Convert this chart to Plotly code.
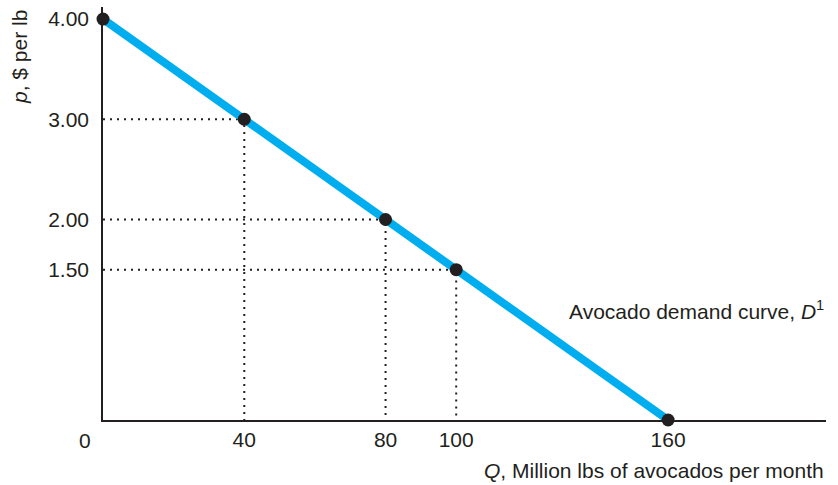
import plotly.graph_objects as go

# Data
quantities = [0, 40, 80, 100, 160]          # Q, million lbs per month
prices = [4.00, 3.00, 2.00, 1.50, 0.00]     # p, $ per lb
guide_q = [40, 80, 100]
guide_p = [3.00, 2.00, 1.50]
x_tickvals = [40, 80, 100, 160]
x_ticktext = ["40", "80", "100", "160"]
y_tickvals = [1.5, 2.0, 3.0, 4.0]
y_ticktext = ["1.50", "2.00", "3.00", "4.00"]
origin_label = "0"

INK = "#231F20"
BLUE = "#00AEEF"
FONT = "Liberation Sans, Arial, Helvetica, sans-serif"
FS = 21

fig = go.Figure()

# dotted guide lines
for q, p in zip(guide_q, guide_p):
    fig.add_trace(go.Scatter(
        x=[0, q, q], y=[p, p, 0], mode="lines",
        line=dict(color=INK, width=2, dash="2px,5px"),
        hoverinfo="skip", showlegend=False, cliponaxis=False))

# demand curve
fig.add_trace(go.Scatter(
    x=quantities, y=prices, mode="lines",
    line=dict(color=BLUE, width=8),
    showlegend=False, cliponaxis=False))

# points
fig.add_trace(go.Scatter(
    x=quantities, y=prices, mode="markers",
    marker=dict(color=INK, size=13),
    showlegend=False, cliponaxis=False))

fig.update_layout(
    width=838, height=485,
    margin=dict(l=103, r=12, t=7, b=65),
    paper_bgcolor="white", plot_bgcolor="white",
    font=dict(family=FONT, size=FS, color=INK),
    xaxis=dict(range=[0, 204.7], showgrid=False, zeroline=False,
               showline=True, linecolor=INK, linewidth=1.5,
               tickvals=x_tickvals, ticktext=x_ticktext,
               ticks="", ticklabelstandoff=0, layer="below traces",
               tickfont=dict(size=FS, color=INK)),
    yaxis=dict(range=[0, 4.12], showgrid=False, zeroline=False,
               showline=True, linecolor=INK, linewidth=1.5,
               tickvals=y_tickvals, ticktext=y_ticktext,
               ticks="", ticklabelstandoff=8, layer="below traces",
               tickfont=dict(size=FS, color=INK)),
    annotations=[
        dict(x=0, y=0, xref="x", yref="y", text=origin_label,
             showarrow=False, xshift=-18, yshift=-20,
             font=dict(size=FS, color=INK)),
        dict(x=1, y=1.10, xref="paper", yref="y",
             text="Avocado demand curve, <i>D</i><sup>1</sup>",
             xanchor="right", yanchor="middle", showarrow=False,
             font=dict(size=FS, color=INK)),
        dict(x=1, y=0, xref="paper", yref="paper", yshift=-50,
             text="<i>Q</i>, Million lbs of avocados per month",
             xanchor="right", yanchor="middle", showarrow=False,
             font=dict(size=FS, color=INK)),
        dict(x=0, y=1, xref="paper", yref="paper", xshift=-84, yshift=-1,
             text="<i>p</i>, $ per lb", textangle=-90,
             xanchor="center", yanchor="top",
             showarrow=False, font=dict(size=FS, color=INK)),
    ],
)

fig.write_html("out.html",
               config={"displayModeBar": False},
               post_script="document.body.style.margin='0px';")
